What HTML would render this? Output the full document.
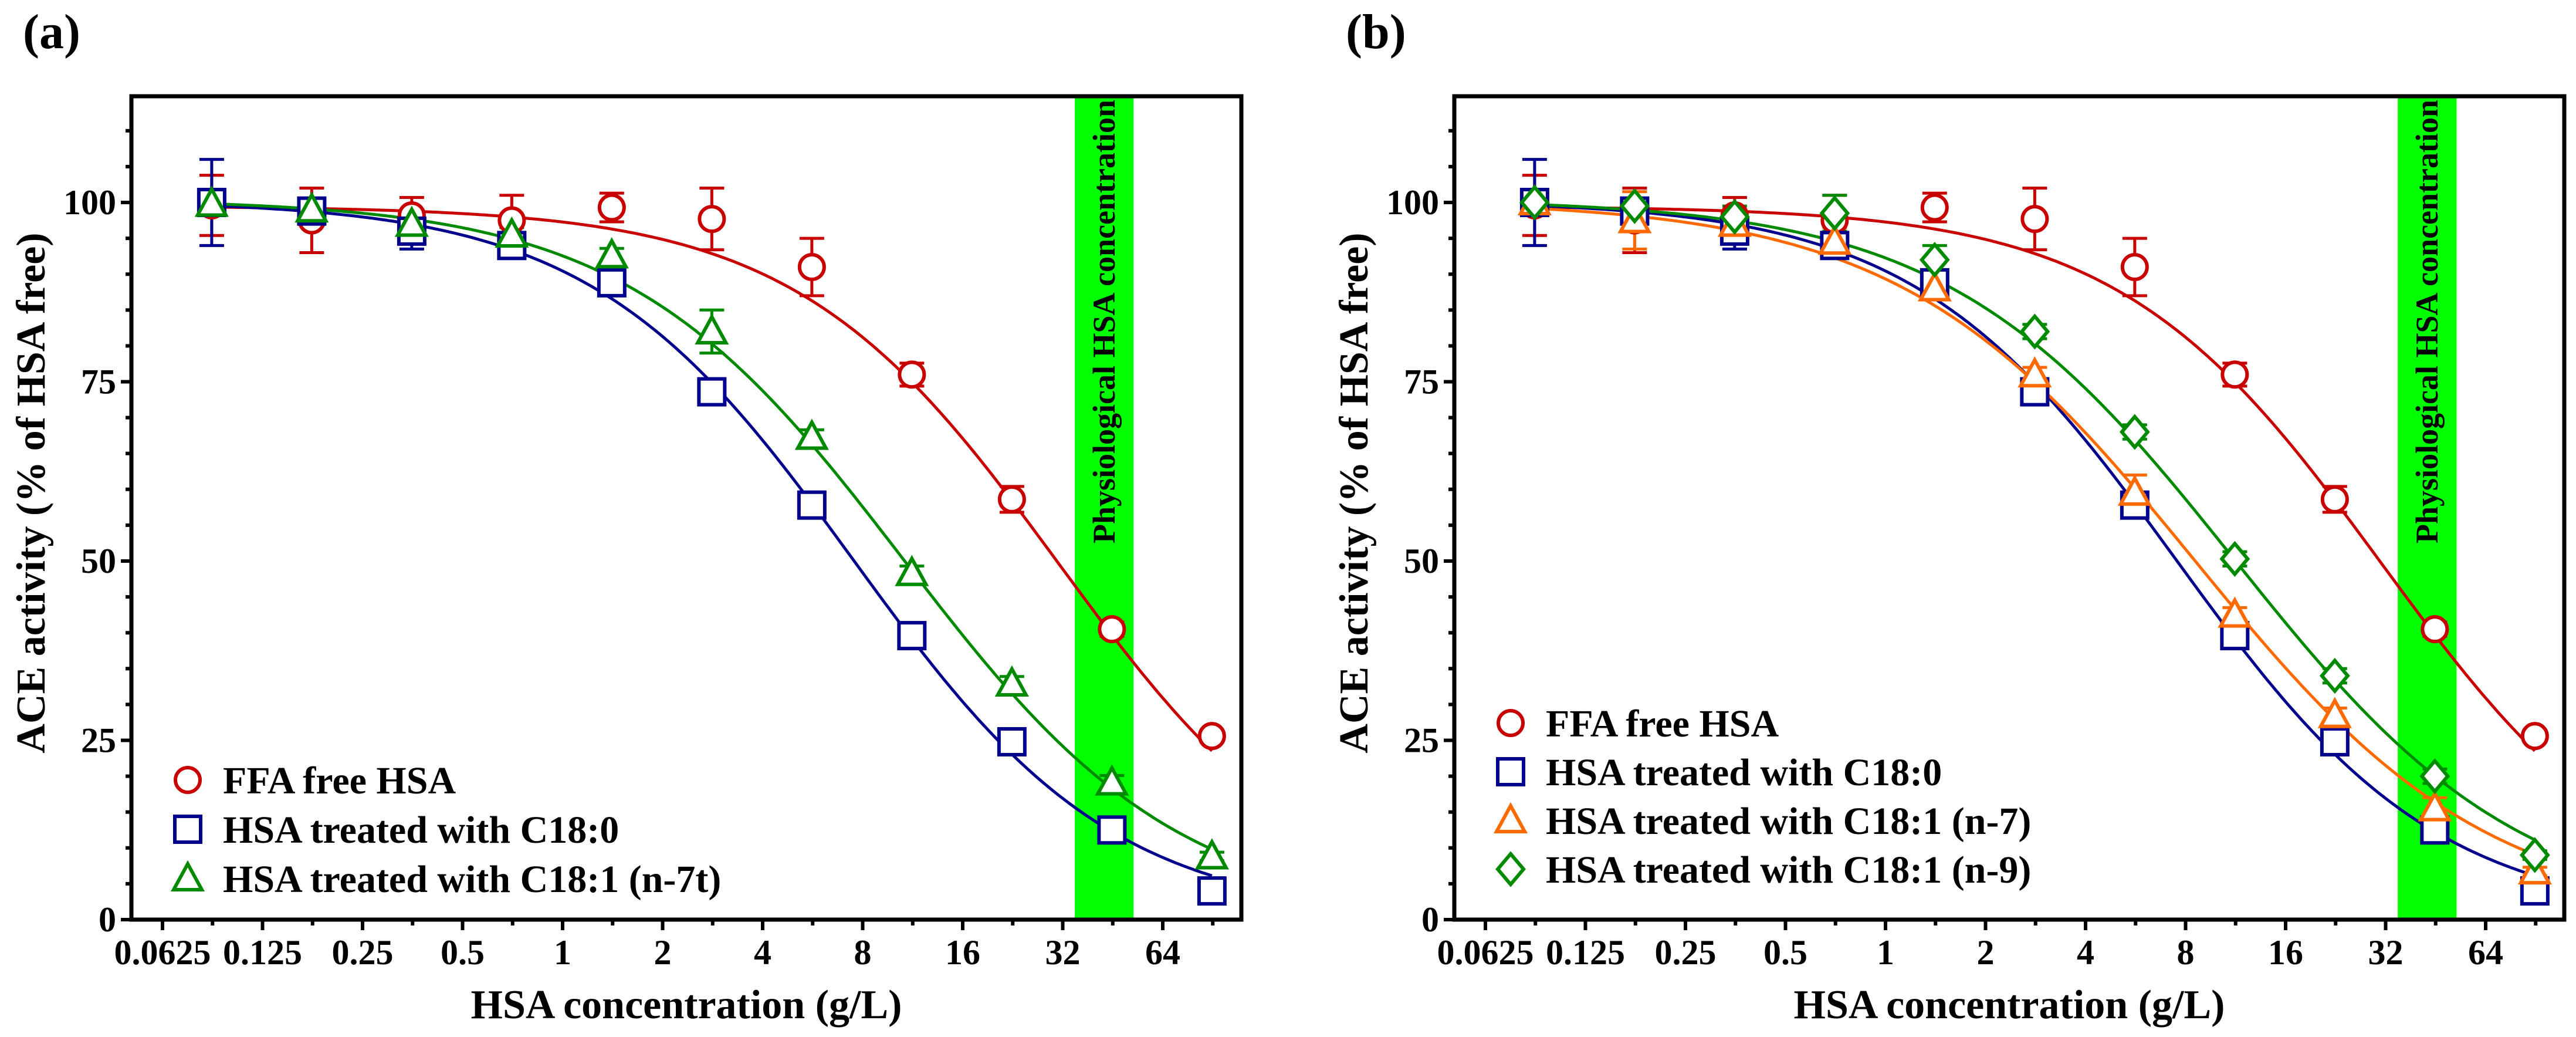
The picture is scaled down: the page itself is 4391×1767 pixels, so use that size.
<!DOCTYPE html>
<html><head><meta charset="utf-8">
<style>
html,body{margin:0;padding:0;background:#fff;}
svg{display:block;}
svg text{font-family:"Liberation Serif","DejaVu Serif","Times New Roman",serif;font-weight:bold;}
</style></head>
<body>
<svg id="fig" xmlns="http://www.w3.org/2000/svg" width="4391" height="1767" viewBox="0 0 4391 1767">
<rect width="4391" height="1767" fill="#fff"/>
</svg>
<script>
// ---- data ----
const concentrations = [0.0879, 0.1758, 0.3516, 0.7031, 1.406, 2.8125, 5.625, 11.25, 22.5, 45, 90];
const xTickLabels = ["0.0625","0.125","0.25","0.5","1","2","4","8","16","32","64"];
const yTickLabels = ["0","25","50","75","100"];
const bandRange = [34.8, 52.3];

const ffaValues  = [99.6, 97.5, 98.2, 97.5, 99.3, 97.7, 91.0, 76.0, 58.6, 40.5, 25.6];
const ffaErrors  = [4.2, 4.5, 2.5, 3.5, 2.0, 4.3, 4.0, 1.6, 1.8, 1.0, 0.8];
const c180Values = [100.0, 98.8, 96.0, 94.0, 88.8, 73.6, 57.8, 39.6, 24.8, 12.5, 4.0];
const c180Errors = [6.0, 1.5, 2.5, 1.0, 1.0, 0.8, 1.2, 0.8, 0.8, 0.8, 0.6];
const n7tValues  = [99.8, 99.0, 97.0, 95.5, 92.6, 82.0, 67.3, 48.3, 32.9, 19.1, 8.8];
const n7tErrors  = [1.5, 1.0, 1.0, 1.0, 1.0, 3.0, 1.0, 1.0, 1.0, 1.0, 0.6];
const n7Values   = [100.0, 97.5, 97.0, 94.5, 88.0, 76.0, 59.5, 42.5, 28.5, 15.5, 6.7];
const n7Errors   = [1.5, 4.0, 2.0, 2.0, 1.5, 1.0, 2.5, 1.0, 1.0, 1.5, 0.6];
const n9Values   = [100.0, 99.5, 98.0, 98.5, 92.0, 82.0, 68.0, 50.3, 34.0, 20.0, 9.0];
const n9Errors   = [1.0, 1.0, 1.5, 2.5, 2.0, 1.0, 1.0, 1.0, 1.0, 1.0, 0.6];

// fitted logistic parameters: [top, ec50, hill]
const ffaFit  = [99.5, 31.0, 1.1];
const c180Fit = [100.3, 7.5, 1.1];
const n7tFit  = [100.5, 10.6, 1.04];
const n7Fit   = [100.3, 8.5, 0.98];
const n9Fit   = [100.5, 11.2, 1.0];

// ---- rendering ----
const NS = "http://www.w3.org/2000/svg";
const svg = document.getElementById('fig');
function mk(tag, attrs, parent){
  const e = document.createElementNS(NS, tag);
  for (const k in attrs) e.setAttribute(k, attrs[k]);
  (parent||svg).appendChild(e);
  return e;
}
const FONT = "'Liberation Serif','DejaVu Serif','Times New Roman',serif";
const RED="#c80000", BLUE="#00008c", GREEN="#008a00", ORANGE="#ff6a00";

function txt(attrs, parent){
  attrs['font-family'] = FONT;
  attrs['font-weight'] = 'bold';
  return mk('text', attrs, parent);
}

function drawPanel(px, label, series, legendRows, tag){
  const L = px, R = px + 1892, T = 164, B = 1567;
  const x0 = L + 53, perDbl = 170.5;
  const sx = v => x0 + Math.log2(v/0.0625)*perDbl;
  const sy = v => B - v*12.22;
  const g = mk('g', {});
  
  

  const pl = txt({x: px-185, y: 82, 'font-size': 84}, g);
  pl.textContent = label;
  
  

  const band = mk('rect', {x: sx(bandRange[0]), y: T, width: sx(bandRange[1]) - sx(bandRange[0]), height: B - T, fill: '#00ff00'}, g);
  
  
  const bc = (sx(bandRange[0]) + sx(bandRange[1]))/2;
  const bt = txt({x: 0, y: 0, 'font-size': 54, 'text-anchor': 'end', transform: `translate(${bc+18},${T+6}) rotate(-90)`}, g);
  bt.textContent = 'Physiological HSA concentration';
  
  

  const fr = mk('rect', {x: L, y: T, width: R-L, height: B-T, fill: 'none', stroke: '#000', 'stroke-width': 7}, g);
  
  

  xTickLabels.forEach((t, i) => {
    const x = sx(0.0625 * Math.pow(2, i));
    const tk = mk('line', {x1: x, x2: x, y1: B, y2: B+18, stroke: '#000', 'stroke-width': 6}, g);
    
    
    const mx = x + perDbl/2;
    if (mx < R) {
      const m = mk('line', {x1: mx, x2: mx, y1: B, y2: B+10, stroke: '#000', 'stroke-width': 6}, g);
      
      
    }
    const tl = txt({x: x, y: 1643, 'font-size': 60, 'text-anchor': 'middle'}, g);
    tl.textContent = t;
    
    
  });
  for (let v = 0; v <= 110; v += 5) {
    const major = v % 25 === 0 && v <= 100;
    const y = sy(v);
    const tk = mk('line', {x1: L - (major ? 18 : 10), x2: L, y1: y, y2: y, stroke: '#000', 'stroke-width': 6}, g);
    
    
  }
  yTickLabels.forEach(t => {
    const tl = txt({x: L - 26, y: sy(+t) + 20, 'font-size': 60, 'text-anchor': 'end'}, g);
    tl.textContent = t;
    
    
  });
  const yt = txt({x: 0, y: 0, 'font-size': 70, 'text-anchor': 'middle', transform: `translate(${L-148},840) rotate(-90)`}, g);
  yt.textContent = 'ACE activity (% of HSA free)';
  
  
  const xt = txt({x: (L+R)/2, y: 1735, 'font-size': 70, 'text-anchor': 'middle'}, g);
  xt.textContent = 'HSA concentration (g/L)';
  
  

  series.forEach(s => {
    let d = '';
    for (let i = 0; i <= 300; i++) {
      const lx = Math.log2(0.0879) + (Math.log2(90) - Math.log2(0.0879)) * i/300;
      const x = Math.pow(2, lx);
      const yv = s.fit[0] / (1 + Math.pow(x / s.fit[1], s.fit[2]));
      d += (i ? 'L' : 'M') + sx(x).toFixed(1) + ',' + sy(yv).toFixed(1);
    }
    const p = mk('path', {d: d, fill: 'none', stroke: s.color, 'stroke-width': 5}, g);
    
    
  });
  series.forEach(s => {
    s.values.forEach((v, i) => {
      const x = sx(concentrations[i]);
      const e = s.errors[i];
      const eb = mk('path', {d: `M${x},${sy(v+e)}V${sy(v-e)}M${x-21},${sy(v+e)}H${x+21}M${x-21},${sy(v-e)}H${x+21}`, stroke: s.color, 'stroke-width': 5, fill: 'none'}, g);
      
      
    });
  });
  series.forEach(s => {
    s.values.forEach((v, i) => {
      const m = marker(s.shape, sx(concentrations[i]), sy(v), s.color, g);
      
      
    });
  });
  series.forEach((s, i) => {
    const y = legendRows[i];
    const m = marker(s.shape, L + 96, y, s.color, g);
    
    
    const t = txt({x: L + 156, y: y + 23, 'font-size': 66}, g);
    t.textContent = s.name;
    
    
  });
}

function marker(shape, x, y, color, parent){
  const a = {fill: '#fff', stroke: color, 'stroke-width': 6};
  let e;
  if (shape === 'circle') e = mk('circle', Object.assign({cx: x, cy: y, r: 21}, a), parent);
  else if (shape === 'square') e = mk('rect', Object.assign({x: x-22, y: y-22, width: 44, height: 44}, a), parent);
  else if (shape === 'triangle') e = mk('path', Object.assign({d: `M${x},${y-25}L${x+24},${y+19}L${x-24},${y+19}Z`}, a), parent);
  else e = mk('path', Object.assign({d: `M${x},${y-26}L${x+22},${y}L${x},${y+26}L${x-22},${y}Z`}, a), parent);
  return e;
}

const ffa  = {key:'ffa-free', name:'FFA free HSA', values: ffaValues, errors: ffaErrors, fit: ffaFit, color: RED, shape:'circle'};
const c180 = {key:'c18-0', name:'HSA treated with C18:0', values: c180Values, errors: c180Errors, fit: c180Fit, color: BLUE, shape:'square'};
const n7t  = {key:'c18-1-n7t', name:'HSA treated with C18:1 (n-7t)', values: n7tValues, errors: n7tErrors, fit: n7tFit, color: GREEN, shape:'triangle'};
const n7   = {key:'c18-1-n7', name:'HSA treated with C18:1 (n-7)', values: n7Values, errors: n7Errors, fit: n7Fit, color: ORANGE, shape:'triangle'};
const n9   = {key:'c18-1-n9', name:'HSA treated with C18:1 (n-9)', values: n9Values, errors: n9Errors, fit: n9Fit, color: GREEN, shape:'diamond'};

drawPanel(224, '(a)', [ffa, c180, n7t], [1329, 1413, 1497], 'a');
drawPanel(2479, '(b)', [ffa, c180, n7, n9], [1232, 1315, 1398, 1481], 'b');
</script>
</body></html>
